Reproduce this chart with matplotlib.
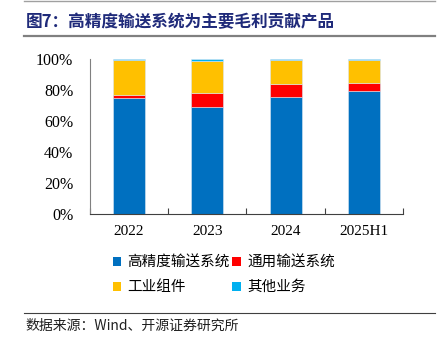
import matplotlib.pyplot as plt
from matplotlib.lines import Line2D
from matplotlib.patches import Patch

plt.rcParams['font.family'] = ['Liberation Serif', 'Noto Sans CJK SC']

years = ['2022', '2023', '2024', '2025H1']
high_prec = [74.6, 68.8, 75.5, 79.4]
general = [2.2, 9.0, 8.6, 5.3]
industrial = [22.6, 20.9, 15.1, 14.5]
other = [0.6, 1.3, 0.8, 0.8]

names = ['高精度输送系统', '通用输送系统', '工业组件', '其他业务']
colors = ['#0070C0', '#FF0000', '#FFC000', '#00B0F0']

fig = plt.figure(figsize=(4.42, 3.44), dpi=100)
ax = fig.add_axes([0.2036, 0.378, 0.708, 0.4505])

x = list(range(len(years)))
bottom = [0.0] * len(years)
for vals, c in zip([high_prec, general, industrial, other], colors):
    ax.bar(x, vals, width=0.41, bottom=bottom, color=c, edgecolor='#d9e6f2', linewidth=0.4)
    bottom = [b + v for b, v in zip(bottom, vals)]

ax.set_xlim(-0.5, 3.5)
ax.set_ylim(0, 100)
ax.set_yticks([0, 20, 40, 60, 80, 100])
ax.set_yticklabels(['%d%%' % v for v in [0, 20, 40, 60, 80, 100]], fontsize=11.5)
ax.set_xticks([-0.5, 0.5, 1.5, 2.5, 3.5])
ax.set_xticklabels([])
ax.set_xticks(x, minor=True)
ax.set_xticklabels(years, minor=True, fontsize=11)
ax.tick_params(axis='x', which='major', direction='in', length=4, color='#404040')
ax.tick_params(axis='x', which='minor', length=0, pad=8)
ax.tick_params(axis='y', length=0, pad=12)
for s in ['top', 'right']:
    ax.spines[s].set_visible(False)
ax.spines['left'].set_color('#808080')
ax.spines['bottom'].set_color('#404040')

# legend fills column-wise, so reorder to get rows like the reference
order = [0, 2, 1, 3]
handles = [Patch(facecolor=colors[i], edgecolor='none') for i in order]
labels = [names[i] for i in order]
fig.legend(handles, labels, loc='center', bbox_to_anchor=(0.506, 0.201), ncol=2,
           frameon=False, handlelength=0.6, handleheight=0.6, handletextpad=0.4,
           columnspacing=0.2, labelspacing=0.75,
           prop={'family': 'Noto Sans CJK SC', 'size': 10.5})

# header / footer
fig.add_artist(Line2D([0.055, 0.985], [0.997, 0.997], color='#a0a0a0', lw=1))
fig.text(0.058, 0.935, '图7：高精度输送系统为主要毛利贡献产品', fontsize=12,
         fontweight='bold', color='#1F2A7A', va='center', family='Noto Sans CJK SC')
fig.add_artist(Line2D([0.055, 0.985], [0.896, 0.896], color='#808080', lw=1.6))
fig.add_artist(Line2D([0.055, 0.985], [0.09, 0.09], color='#404040', lw=0.8))
fig.text(0.058, 0.052, '数据来源：Wind、开源证券研究所', fontsize=10, color='#202020',
         va='center', family=['Noto Sans CJK SC'])

fig.savefig('out.png', dpi=100)
